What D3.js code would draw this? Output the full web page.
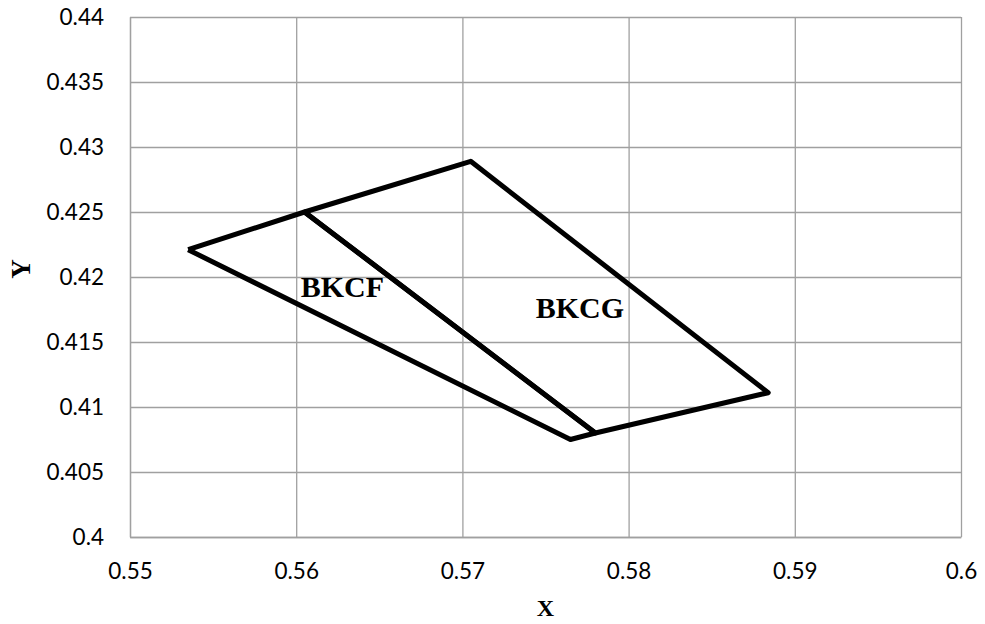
<!DOCTYPE html>
<html>
<head>
<meta charset="utf-8">
<script src="https://cdn.jsdelivr.net/npm/d3@7"></script>
<style>
  body { margin: 0; background: #fff; }
  svg { display: block; }
</style>
</head>
<body>
<div id="chart"></div>
<script>
// Region boundaries (closed polygons)
const bkcfX = [0.5535, 0.5605, 0.5780, 0.5765, 0.5535];
const bkcfY = [0.4221, 0.4250, 0.4080, 0.4075, 0.4221];
const bkcgX = [0.5605, 0.5705, 0.5884, 0.5780, 0.5605];
const bkcgY = [0.4250, 0.4289, 0.4111, 0.4080, 0.4250];

const regionNames = ["BKCF", "BKCG"];
const regionLabelX = [0.56027, 0.57441];
const regionLabelY = [0.41846, 0.41685];

const xTicks = [0.55, 0.56, 0.57, 0.58, 0.59, 0.6];
const yTicks = [0.4, 0.405, 0.41, 0.415, 0.42, 0.425, 0.43, 0.435, 0.44];

const W = 985, H = 624;
const margin = { top: 17, right: 24, bottom: 87, left: 130 };
const width = W - margin.left - margin.right;
const height = H - margin.top - margin.bottom;

const GRID = "#a0a0a0";

const x = d3.scaleLinear().domain([0.55, 0.6]).range([0, width]);
const y = d3.scaleLinear().domain([0.4, 0.44]).range([height, 0]);

const svg = d3.select("#chart").append("svg")
    .attr("width", W).attr("height", H)
  .append("g")
    .attr("transform", `translate(${margin.left},${margin.top})`);

// gridlines
svg.append("g")
  .call(d3.axisLeft(y).tickValues(yTicks).tickSize(-width).tickFormat(""))
  .call(g => g.select(".domain").remove())
  .selectAll(".tick line").attr("stroke", GRID).attr("stroke-width", 1.3);

svg.append("g")
  .attr("transform", `translate(0,${height})`)
  .call(d3.axisBottom(x).tickValues(xTicks).tickSize(-height).tickFormat(""))
  .call(g => g.select(".domain").remove())
  .selectAll(".tick line").attr("stroke", GRID).attr("stroke-width", 1.3);

// tick labels
const yAxis = svg.append("g")
  .call(d3.axisLeft(y).tickValues(yTicks).tickSize(0).tickPadding(26).tickFormat(d3.format("")));
yAxis.select(".domain").attr("stroke", GRID).attr("stroke-width", 1.3);
yAxis.selectAll("text")
  .attr("font-family", "Lato, 'Open Sans', sans-serif")
  .attr("font-size", 22.5).attr("fill", "#000");

const xAxis = svg.append("g")
  .attr("transform", `translate(0,${height})`)
  .call(d3.axisBottom(x).tickValues(xTicks).tickSize(0).tickPadding(26).tickFormat(d3.format("")));
xAxis.select(".domain").attr("stroke", GRID).attr("stroke-width", 1.3);
xAxis.selectAll("text")
  .attr("font-family", "Lato, 'Open Sans', sans-serif")
  .attr("font-size", 22.5).attr("fill", "#000");

// region outlines
const line = d3.line().x(d => x(d[0])).y(d => y(d[1]));
[[bkcfX, bkcfY], [bkcgX, bkcgY]].forEach(([xs, ys]) => {
  svg.append("path")
    .datum(xs.map((v, i) => [v, ys[i]]))
    .attr("fill", "none")
    .attr("stroke", "#000")
    .attr("stroke-width", 5)
    .attr("stroke-linejoin", "round")
    .attr("d", line);
});

// region labels
regionNames.forEach((name, i) => {
  svg.append("text")
    .attr("x", x(regionLabelX[i]))
    .attr("y", y(regionLabelY[i]))
    .attr("font-family", "'Liberation Serif', 'Times New Roman', serif")
    .attr("font-weight", "bold")
    .attr("font-size", 30)
    .attr("fill", "#000")
    .text(name);
});

// axis titles
svg.append("text")
  .attr("x", width / 2).attr("y", height + 79)
  .attr("text-anchor", "middle")
  .attr("font-family", "'Liberation Serif', 'Times New Roman', serif")
  .attr("font-weight", "bold").attr("font-size", 24)
  .text("X");

svg.append("text")
  .attr("transform", "rotate(-90)")
  .attr("x", -(y(0.42) - 8)).attr("y", -100)
  .attr("text-anchor", "middle")
  .attr("font-family", "'Liberation Serif', 'Times New Roman', serif")
  .attr("font-weight", "bold").attr("font-size", 27)
  .text("Y");
</script>
</body>
</html>
